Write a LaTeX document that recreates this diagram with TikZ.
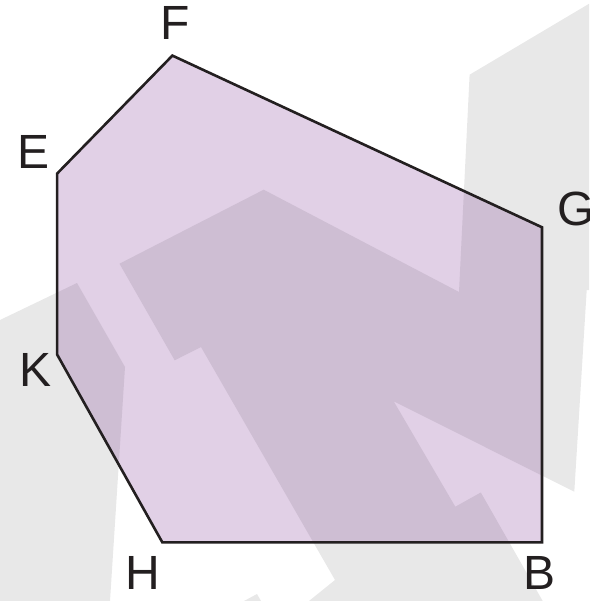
\documentclass[tikz,border=0pt]{standalone}
\usepackage{fontspec}
\setmainfont{Liberation Sans}
\definecolor{wmgray}{HTML}{E8E8E8}
\definecolor{lightpurple}{HTML}{E1D0E6}
\definecolor{darkpurple}{HTML}{CEBED3}
\definecolor{inkline}{HTML}{231F20}
\tikzset{
  vlabel/.style={inner sep=0pt, text=inkline, font=\fontsize{48}{56}\selectfont},
  outline/.style={draw=inkline, line width=2.6pt, line join=miter},
  wmshape/.style={fill=wmgray, draw=none}
}
\begin{document}
\begin{tikzpicture}[x=1pt,y=-1pt]
\useasboundingbox (0,0) rectangle (589,601);
\clip (0,0) rectangle (589,601);
% watermark shapes
\def\shapeL{(0,320) -- (77,283) -- (125,367) -- (110,601) -- (0,601) -- cycle}
\def\shapeM{(119.5,263.7) -- (263.7,189.7) -- (459,292) -- (469.6,74.7) -- (589,3.8) -- (589,290) -- (586.7,290) -- (574.3,491.7) -- (393.7,401.3) -- (455.3,506.7) -- (480.8,492.5) -- (545,605) -- (304,605) -- (335,580) -- (201,347) -- (174.7,360.3) -- cycle}
\def\shapeS{(244,601) -- (257,594) -- (261,601) -- cycle}
\fill[wmshape] \shapeL;
\fill[wmshape] \shapeM;
\fill[wmshape] \shapeS;
% polygon vertices
\coordinate (F) at (172.4,55.6);
\coordinate (E) at (57.1,173.6);
\coordinate (K) at (57.1,354.5);
\coordinate (H) at (162.3,542.3);
\coordinate (B) at (542,542.3);
\coordinate (G) at (542,227.3);
\fill[lightpurple] (F) -- (E) -- (K) -- (H) -- (B) -- (G) -- cycle;
\begin{scope}
  \clip (F) -- (E) -- (K) -- (H) -- (B) -- (G) -- cycle;
  \fill[darkpurple] \shapeL;
  \fill[darkpurple] \shapeM;
\end{scope}
\draw[outline] (F) -- (E) -- (K) -- (H) -- (B) -- (G) -- cycle;
% labels
\node[vlabel] (lF) at (175,23) {F};
\node[vlabel] (lE) at (33.8,151.5) {E};
\node[vlabel] (lK) at (36,369.5) {K};
\node[vlabel] (lH) at (142.5,572.5) {H};
\node[vlabel] (lB) at (539.5,572.5) {B};
\node[vlabel, anchor=west] (lG) at (557,209) {G};
\end{tikzpicture}
\end{document}
